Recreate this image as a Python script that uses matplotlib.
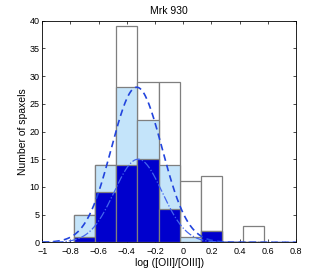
import numpy as np
import matplotlib
matplotlib.use("Agg")
import matplotlib.pyplot as plt

plt.rcParams['font.family'] = ['Liberation Sans', 'DejaVu Sans']

bin_centers = [-0.7, -0.55, -0.4, -0.25, -0.1, 0.05, 0.2, 0.35, 0.5]
total_counts = [5, 14, 39, 29, 29, 11, 12, 0, 3]
light_counts = [5, 14, 28, 22, 14, 1, 2, 0, 0]
dark_counts = [1, 9, 14, 15, 6, 0, 2, 0, 0]
bin_width = 0.15

# Gaussian fit parameters (amplitude, centre, sigma)
fit_light = (28.0, -0.33, 0.18)
fit_dark = (15.0, -0.32, 0.17)

xticks = [-1, -0.8, -0.6, -0.4, -0.2, 0, 0.2, 0.4, 0.6, 0.8]
xticklabels = ['\u22121', '\u22120.8', '\u22120.6', '\u22120.4', '\u22120.2', '0', '0.2', '0.4', '0.6', '0.8']
yticks = [0, 5, 10, 15, 20, 25, 30, 35, 40]

fig = plt.figure(figsize=(3.27, 2.73), dpi=100)
ax = fig.add_axes([0.1294, 0.1125, 0.7756, 0.8115])

edge = '#7f7f7f'
ax.bar(bin_centers, total_counts, width=bin_width, color='white', edgecolor=edge, linewidth=0.9, zorder=1)
ax.bar(bin_centers, light_counts, width=bin_width, color='#c4e4fa', edgecolor=edge, linewidth=0.9, zorder=2)
ax.bar(bin_centers, dark_counts, width=bin_width, color='#0000cd', edgecolor=edge, linewidth=0.9, zorder=3)

xs = np.linspace(-1, 0.8, 400)
a, m, s = fit_light
ax.plot(xs, a * np.exp(-(xs - m) ** 2 / (2 * s ** 2)), color='#2244dd', linestyle=(0, (4, 2.5)), linewidth=1.2, zorder=4)
a, m, s = fit_dark
ax.plot(xs, a * np.exp(-(xs - m) ** 2 / (2 * s ** 2)), color='#4466ee', linestyle='-.', linewidth=0.9, zorder=4)

ax.set_xlim(-1, 0.8)
ax.set_ylim(0, 40)
ax.set_xticks(xticks)
ax.set_xticklabels(xticklabels)
ax.set_yticks(yticks)
ax.tick_params(direction='in', length=2.5, width=0.5, labelsize=6.5, top=True, right=True)
ax.tick_params(axis='x', pad=3.5)
ax.tick_params(axis='y', pad=2)
for sp in ax.spines.values():
    sp.set_linewidth(0.6)
ax.set_xlabel('log ([OII]/[OIII])', fontsize=7.5, labelpad=1)
ax.set_ylabel('Number of spaxels', fontsize=7.5, labelpad=1)
ax.set_title('Mrk 930', fontsize=7.5, pad=5)

fig.savefig('out.png', dpi=100)
